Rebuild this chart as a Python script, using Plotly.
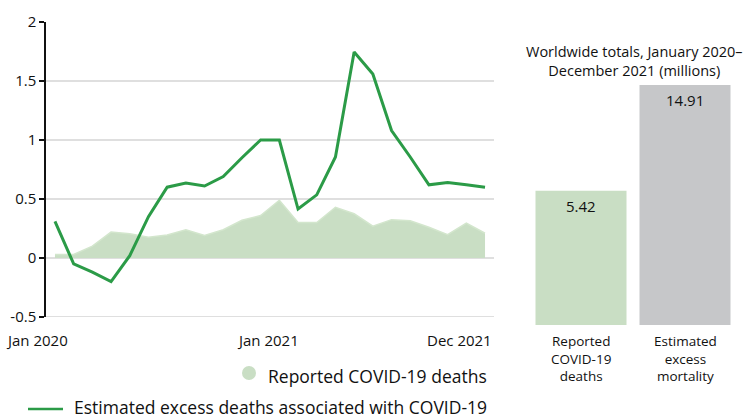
import plotly.graph_objects as go

W, H = 749, 418

months = ["Jan 2020", "Feb 2020", "Mar 2020", "Apr 2020", "May 2020", "Jun 2020",
          "Jul 2020", "Aug 2020", "Sep 2020", "Oct 2020", "Nov 2020", "Dec 2020",
          "Jan 2021", "Feb 2021", "Mar 2021", "Apr 2021", "May 2021", "Jun 2021",
          "Jul 2021", "Aug 2021", "Sep 2021", "Oct 2021", "Nov 2021", "Dec 2021"]
excess = [0.31, -0.05, -0.12, -0.20, 0.02, 0.35, 0.60, 0.635, 0.61, 0.69, 0.85, 1.0,
          1.0, 0.415, 0.535, 0.856, 1.746, 1.56, 1.08, 0.856, 0.62, 0.64, 0.62, 0.60]
reported = [0.03, 0.03, 0.10, 0.22, 0.205, 0.175, 0.195, 0.24, 0.19, 0.24, 0.32, 0.36,
            0.49, 0.30, 0.30, 0.43, 0.375, 0.27, 0.325, 0.315, 0.26, 0.197, 0.295, 0.21]

ytick_vals = [-0.5, 0, 0.5, 1, 1.5, 2]
ytick_text = ["-0.5", "0", "0.5", "1", "1.5", "2"]
grid_vals = [-0.5, 0, 0.5, 1, 1.5]
xlabels = ["Jan 2020", "Jan 2021", "Dec 2021"]

total_cats = ["Reported<br>COVID-19<br>deaths", "Estimated<br>excess<br>mortality"]
total_vals = [5.42, 14.91]
total_text = ["5.42", "14.91"]
panel_title = "Worldwide totals, January 2020–<br>December 2021 (millions)"
legend_labels = ["Reported COVID-19 deaths", "Estimated excess deaths associated with COVID-19"]

GREEN = "#2b9b47"
LIGHT = "#c9dec4"
GRAY = "#c6c7c9"
TXT = "#111111"
FONT = "Open Sans"


def px(x):
    return x / W


def py(y):
    return 1 - y / H


xlabel_px = [37, 268, 459]

fig = go.Figure()
fig.add_trace(go.Scatter(x=list(range(len(months))), y=reported, mode="lines",
                         fill="tozeroy", fillcolor=LIGHT,
                         line=dict(color="#d3e6cd", width=1.5),
                         hoverinfo="skip", showlegend=False, xaxis="x", yaxis="y"))
fig.add_trace(go.Scatter(x=list(range(len(months))), y=excess, mode="lines",
                         line=dict(color=GREEN, width=3),
                         showlegend=False, xaxis="x", yaxis="y"))

base_val = -6.64
fig.add_trace(go.Bar(x=total_cats, y=[v - base_val for v in total_vals], base=base_val,
                     marker=dict(color=[LIGHT, GRAY], line=dict(width=0)),
                     showlegend=False, xaxis="x2", yaxis="y2"))

shapes = []
for g in grid_vals:
    shapes.append(dict(type="line", xref="x domain", yref="y", x0=0, x1=1, y0=g, y1=g,
                       line=dict(color="#d4d4d4", width=1.5), layer="below"))
shapes.append(dict(type="circle", xref="paper", yref="paper",
                   x0=px(242), x1=px(256), y0=py(380), y1=py(366),
                   fillcolor=LIGHT, line=dict(width=0)))
shapes.append(dict(type="line", xref="paper", yref="paper",
                   x0=px(28), x1=px(63), y0=py(409), y1=py(409),
                   line=dict(color=GREEN, width=2.5)))

annotations = []
for lab, pos in zip(xlabels, xlabel_px):
    annotations.append(dict(text=lab, x=px(pos), xref="paper", y=py(340), yref="paper",
                            xanchor="center", yanchor="middle", showarrow=False,
                            font=dict(size=15, color=TXT, family=FONT)))
annotations.append(dict(text=panel_title, x=px(634), y=py(61), xref="paper", yref="paper",
                        xanchor="center", yanchor="middle", showarrow=False, align="center",
                        font=dict(size=14.5, color=TXT, family=FONT)))
for cat, txt, v in zip(total_cats, total_text, total_vals):
    annotations.append(dict(text=txt, x=cat, xref="x2", y=v, yref="y2",
                            xanchor="center", yanchor="top", yshift=-3, showarrow=False,
                            font=dict(size=15, color=TXT, family=FONT)))
    annotations.append(dict(text=cat, x=cat, xref="x2", y=py(330), yref="paper",
                            xanchor="center", yanchor="top", showarrow=False, align="center",
                            font=dict(size=13.5, color=TXT, family=FONT)))
annotations.append(dict(text=legend_labels[0], x=px(489), y=py(376), xref="paper", yref="paper",
                        xanchor="right", yanchor="middle", showarrow=False,
                        font=dict(size=17.5, color=TXT, family=FONT)))
annotations.append(dict(text=legend_labels[1], x=px(489), y=py(406.5), xref="paper", yref="paper",
                        xanchor="right", yanchor="middle", showarrow=False,
                        font=dict(size=17.5, color=TXT, family=FONT)))

fig.update_layout(
    width=W, height=H,
    margin=dict(l=0, r=0, t=0, b=0, autoexpand=False),
    paper_bgcolor="white", plot_bgcolor="white",
    font=dict(family=FONT, color=TXT, size=15),
    showlegend=False,
    bargap=0.125,
    xaxis=dict(domain=[px(46), px(494)], range=[-0.48, 23.48], showgrid=False,
               zeroline=False, showline=False, showticklabels=False, ticks="",
               automargin=False),
    yaxis=dict(domain=[py(317), py(22)], range=[-0.5, 2], showgrid=False, zeroline=False,
               showline=True, linecolor="#111111", linewidth=1.5,
               ticks="outside", ticklen=5, tickwidth=1.5, tickcolor="#111111",
               tickvals=ytick_vals, ticktext=ytick_text, automargin=False,
               tickfont=dict(size=15, color=TXT, family=FONT)),
    xaxis2=dict(domain=[px(529), px(737)], anchor="y2", showgrid=False, zeroline=False,
                showline=False, showticklabels=False, ticks="", automargin=False),
    yaxis2=dict(domain=[py(325), py(85)], anchor="x2", range=[base_val, 14.91],
                showgrid=False, zeroline=False, showline=False, showticklabels=False,
                ticks="", automargin=False),
    shapes=shapes,
    annotations=annotations,
)

fig.write_html("out.html", config={"displayModeBar": False},
               post_script="document.body.style.margin='0';")
